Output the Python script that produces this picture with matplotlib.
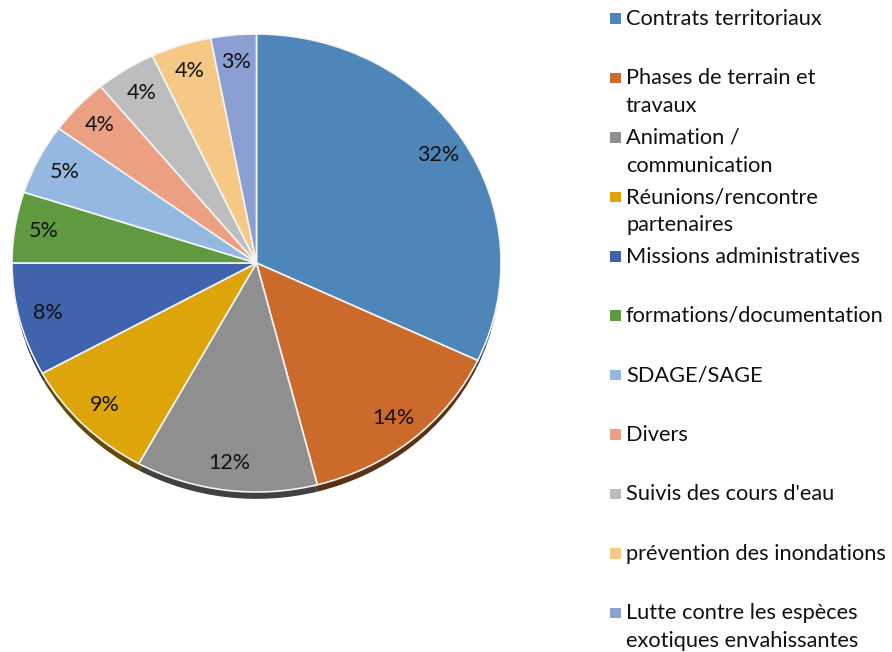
import matplotlib.pyplot as plt
from matplotlib.patches import Rectangle
import matplotlib.colors as mcolors

# données du graphique
categories = [
    "Contrats territoriaux",
    "Phases de terrain et\ntravaux",
    "Animation /\ncommunication",
    "Réunions/rencontre\npartenaires",
    "Missions administratives",
    "formations/documentation",
    "SDAGE/SAGE",
    "Divers",
    "Suivis des cours d'eau",
    "prévention des inondations",
    "Lutte contre les espèces\nexotiques envahissantes",
]
values = [32, 14, 12, 9, 8, 5, 5, 4, 4, 4, 3]
colors = ["#4F86BA", "#CC6A2C", "#8F8F8F", "#DDA50A", "#3F64AD", "#5F9940",
          "#94B8E0", "#EBA084", "#BDBDBD", "#F6C885", "#8C9FD2"]

FONT = ["Lato", "DejaVu Sans"]


def darker(c, f=0.45):
    r, g, b = mcolors.to_rgb(c)
    return (r * f, g * f, b * f)


fig = plt.figure(figsize=(8.92, 6.52), dpi=100)
ax = fig.add_axes([12 / 892, 1 - 492 / 652, 489 / 892, 458 / 652])

# ombre (effet 3D) sous le camembert
ax.pie(values, colors=[darker(c) for c in colors], startangle=90, counterclock=False,
       center=(0, -0.035), radius=0.995, wedgeprops=dict(linewidth=0))

wedges, texts, autotexts = ax.pie(
    values, colors=colors, startangle=90, counterclock=False,
    autopct='%.0f%%', pctdistance=0.88, radius=1.0,
    wedgeprops=dict(edgecolor='#f4f4f4', linewidth=1.2),
    textprops=dict(fontsize=15.5, color='#111111', family=FONT))
ax.set_aspect('auto')
ax.set_xlim(-1, 1)
ax.set_ylim(-1.0, 1.0)

# légende dessinée à la main (carré aligné sur la première ligne)
y0 = 1 - 19 / 652
step = 59.4 / 652
for i, (lab, col) in enumerate(zip(categories, colors)):
    y = y0 - i * step
    fig.patches.append(Rectangle((610 / 892, y - 5 / 652), 10.5 / 892, 10.5 / 652,
                                 transform=fig.transFigure, facecolor=col,
                                 edgecolor='none'))
    fig.text(626 / 892, y + 10 / 652, lab, fontsize=15.7, family=FONT, color='#111111',
             va='top', ha='left', linespacing=1.5)

fig.savefig("out.png", dpi=100)
